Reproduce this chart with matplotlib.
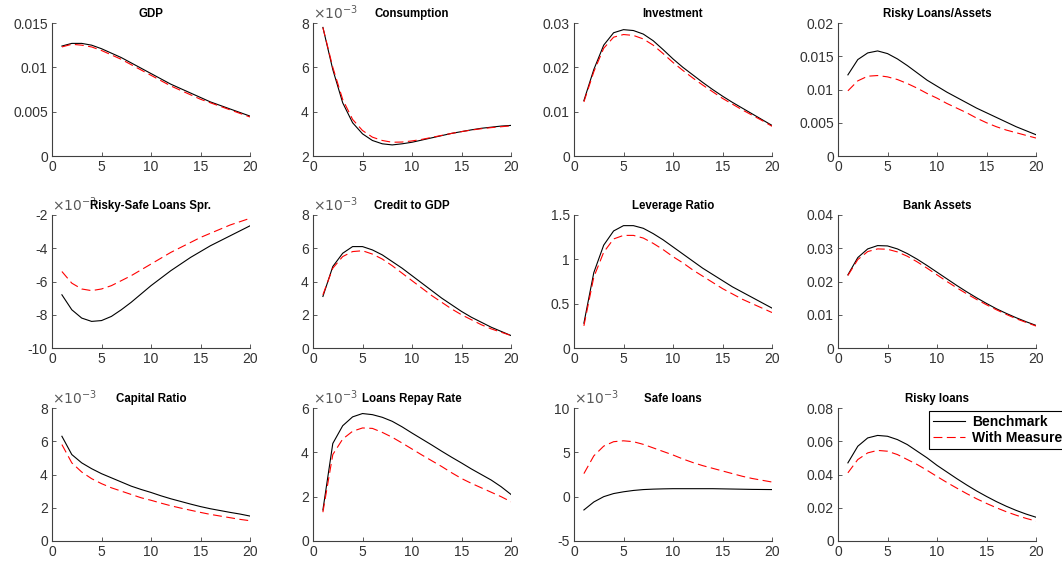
import numpy as np
import matplotlib
matplotlib.use("Agg")
import matplotlib.pyplot as plt
from matplotlib.ticker import FuncFormatter

plt.rcParams['font.family'] = ['Liberation Sans', 'DejaVu Sans']

periods = np.arange(1, 21)

titles = ['GDP', 'Consumption', 'Investment', 'Risky Loans/Assets',
          'Risky-Safe Loans Spr.', 'Credit to GDP', 'Leverage Ratio', 'Bank Assets',
          'Capital Ratio', 'Loans Repay Rate', 'Safe loans', 'Risky loans']

gdp_bench = [0.0124, 0.0127, 0.0127, 0.0125, 0.0121, 0.0116, 0.0111, 0.0105, 0.0099, 0.0093,
             0.0087, 0.0081, 0.0076, 0.0071, 0.0066, 0.0061, 0.0057, 0.0053, 0.0049, 0.0045]
gdp_meas = [0.0123, 0.0126, 0.0125, 0.0123, 0.0119, 0.0114, 0.0109, 0.0103, 0.0097, 0.0091,
            0.0085, 0.0079, 0.0074, 0.0069, 0.0064, 0.0060, 0.0056, 0.0052, 0.0048, 0.0044]

cons_bench = [7.8e-3, 5.9e-3, 4.4e-3, 3.5e-3, 3.0e-3, 2.7e-3, 2.55e-3, 2.5e-3, 2.55e-3, 2.62e-3,
              2.72e-3, 2.82e-3, 2.92e-3, 3.02e-3, 3.1e-3, 3.18e-3, 3.25e-3, 3.3e-3, 3.35e-3, 3.38e-3]
cons_meas = [7.8e-3, 6.0e-3, 4.55e-3, 3.65e-3, 3.15e-3, 2.85e-3, 2.7e-3, 2.62e-3, 2.63e-3, 2.68e-3,
             2.75e-3, 2.84e-3, 2.93e-3, 3.02e-3, 3.1e-3, 3.17e-3, 3.23e-3, 3.28e-3, 3.32e-3, 3.36e-3]

inv_bench = [0.0125, 0.0195, 0.0250, 0.0278, 0.0285, 0.0283, 0.0275, 0.0260, 0.0240, 0.0219,
             0.0200, 0.0183, 0.0166, 0.0150, 0.0135, 0.0121, 0.0108, 0.0095, 0.0082, 0.0069]
inv_meas = [0.0122, 0.0190, 0.0243, 0.0268, 0.0274, 0.0272, 0.0264, 0.0250, 0.0231, 0.0211,
            0.0193, 0.0176, 0.0160, 0.0145, 0.0130, 0.0117, 0.0104, 0.0092, 0.0080, 0.0067]

rla_bench = [0.0122, 0.0145, 0.0155, 0.0158, 0.0154, 0.0146, 0.0136, 0.0125, 0.0114, 0.0105,
             0.0096, 0.0088, 0.0080, 0.0072, 0.0065, 0.0058, 0.0051, 0.0044, 0.0038, 0.0032]
rla_meas = [0.0098, 0.0113, 0.0120, 0.0121, 0.0119, 0.0115, 0.0109, 0.0102, 0.0094, 0.0087,
            0.0079, 0.0072, 0.0065, 0.0057, 0.0050, 0.0044, 0.0039, 0.0035, 0.0031, 0.0027]

spr_bench = [-6.8e-3, -7.7e-3, -8.2e-3, -8.4e-3, -8.35e-3, -8.1e-3, -7.7e-3, -7.25e-3, -6.75e-3, -6.25e-3,
             -5.8e-3, -5.35e-3, -4.95e-3, -4.55e-3, -4.2e-3, -3.85e-3, -3.55e-3, -3.25e-3, -2.95e-3, -2.65e-3]
spr_meas = [-5.4e-3, -6.1e-3, -6.45e-3, -6.55e-3, -6.45e-3, -6.25e-3, -5.95e-3, -5.65e-3, -5.3e-3, -4.95e-3,
            -4.6e-3, -4.25e-3, -3.95e-3, -3.65e-3, -3.35e-3, -3.1e-3, -2.85e-3, -2.6e-3, -2.4e-3, -2.2e-3]

cgdp_bench = [3.1e-3, 4.9e-3, 5.7e-3, 6.1e-3, 6.1e-3, 5.9e-3, 5.6e-3, 5.2e-3, 4.8e-3, 4.35e-3,
              3.9e-3, 3.45e-3, 3.0e-3, 2.6e-3, 2.2e-3, 1.85e-3, 1.55e-3, 1.25e-3, 1.0e-3, 0.75e-3]
cgdp_meas = [3.2e-3, 4.8e-3, 5.5e-3, 5.8e-3, 5.85e-3, 5.65e-3, 5.35e-3, 4.95e-3, 4.5e-3, 4.05e-3,
             3.6e-3, 3.15e-3, 2.75e-3, 2.35e-3, 2.0e-3, 1.7e-3, 1.4e-3, 1.15e-3, 0.95e-3, 0.75e-3]

lev_bench = [0.28, 0.85, 1.16, 1.32, 1.38, 1.38, 1.35, 1.29, 1.22, 1.14,
             1.06, 0.98, 0.90, 0.83, 0.76, 0.69, 0.63, 0.57, 0.51, 0.45]
lev_meas = [0.25, 0.80, 1.08, 1.23, 1.27, 1.27, 1.24, 1.18, 1.11, 1.03,
            0.96, 0.88, 0.81, 0.74, 0.67, 0.61, 0.55, 0.50, 0.45, 0.40]

ba_bench = [0.0220, 0.0272, 0.0298, 0.0308, 0.0307, 0.0298, 0.0284, 0.0267, 0.0248, 0.0228,
            0.0208, 0.0188, 0.0169, 0.0151, 0.0134, 0.0118, 0.0104, 0.0091, 0.0079, 0.0068]
ba_meas = [0.0218, 0.0266, 0.0290, 0.0298, 0.0297, 0.0289, 0.0276, 0.0259, 0.0240, 0.0220,
           0.0200, 0.0181, 0.0163, 0.0146, 0.0130, 0.0115, 0.0101, 0.0088, 0.0077, 0.0066]

cap_bench = [6.3e-3, 5.2e-3, 4.7e-3, 4.35e-3, 4.05e-3, 3.8e-3, 3.55e-3, 3.3e-3, 3.1e-3, 2.92e-3,
             2.72e-3, 2.54e-3, 2.38e-3, 2.22e-3, 2.07e-3, 1.94e-3, 1.83e-3, 1.72e-3, 1.62e-3, 1.5e-3]
cap_meas = [5.8e-3, 4.7e-3, 4.15e-3, 3.75e-3, 3.45e-3, 3.2e-3, 3.0e-3, 2.8e-3, 2.6e-3, 2.45e-3,
            2.28e-3, 2.12e-3, 1.98e-3, 1.85e-3, 1.72e-3, 1.6e-3, 1.5e-3, 1.4e-3, 1.3e-3, 1.22e-3]

rep_bench = [1.4e-3, 4.4e-3, 5.2e-3, 5.6e-3, 5.75e-3, 5.7e-3, 5.58e-3, 5.4e-3, 5.15e-3, 4.87e-3,
             4.6e-3, 4.33e-3, 4.05e-3, 3.78e-3, 3.52e-3, 3.25e-3, 3.0e-3, 2.75e-3, 2.45e-3, 2.1e-3]
rep_meas = [1.3e-3, 3.9e-3, 4.6e-3, 4.95e-3, 5.1e-3, 5.08e-3, 4.9e-3, 4.68e-3, 4.42e-3, 4.15e-3,
            3.88e-3, 3.62e-3, 3.36e-3, 3.08e-3, 2.82e-3, 2.6e-3, 2.4e-3, 2.2e-3, 2.0e-3, 1.77e-3]

safe_bench = [-1.5e-3, -0.6e-3, 0.0, 0.35e-3, 0.55e-3, 0.7e-3, 0.8e-3, 0.85e-3, 0.88e-3, 0.9e-3,
              0.9e-3, 0.9e-3, 0.9e-3, 0.9e-3, 0.88e-3, 0.86e-3, 0.84e-3, 0.82e-3, 0.81e-3, 0.8e-3]
safe_meas = [2.6e-3, 4.6e-3, 5.7e-3, 6.2e-3, 6.3e-3, 6.2e-3, 5.9e-3, 5.5e-3, 5.1e-3, 4.7e-3,
             4.25e-3, 3.85e-3, 3.5e-3, 3.2e-3, 2.9e-3, 2.6e-3, 2.3e-3, 2.05e-3, 1.85e-3, 1.65e-3]

rl_bench = [0.047, 0.057, 0.062, 0.0635, 0.063, 0.061, 0.058, 0.054, 0.050, 0.0455,
            0.0415, 0.0375, 0.0337, 0.0301, 0.0268, 0.0237, 0.0209, 0.0184, 0.0162, 0.0143]
rl_meas = [0.041, 0.049, 0.053, 0.0545, 0.054, 0.052, 0.049, 0.046, 0.0425, 0.0388,
           0.0352, 0.0318, 0.0285, 0.0254, 0.0226, 0.0200, 0.0176, 0.0155, 0.0136, 0.0120]

bench_series = [gdp_bench, cons_bench, inv_bench, rla_bench, spr_bench, cgdp_bench,
                lev_bench, ba_bench, cap_bench, rep_bench, safe_bench, rl_bench]
meas_series = [gdp_meas, cons_meas, inv_meas, rla_meas, spr_meas, cgdp_meas,
               lev_meas, ba_meas, cap_meas, rep_meas, safe_meas, rl_meas]

y_limits = [(0, 0.015), (2e-3, 8e-3), (0, 0.03), (0, 0.02),
            (-10e-3, -2e-3), (0, 8e-3), (0, 1.5), (0, 0.04),
            (0, 8e-3), (0, 6e-3), (-5e-3, 10e-3), (0, 0.08)]
y_steps = [0.005, 2e-3, 0.01, 0.005, 2e-3, 2e-3, 0.5, 0.01, 2e-3, 2e-3, 5e-3, 0.02]
scaled = [False, True, False, False, True, True, False, False, True, True, True, False]

fig = plt.figure(figsize=(10.62, 5.68), dpi=100)

lefts = [52, 313, 574, 838]
bottoms = [156, 348, 541]
w_px, h_px = 198, 133
axis_col = '0.25'

for i in range(12):
    r, c = divmod(i, 4)
    ax = fig.add_axes([lefts[c] / 1062, 1 - bottoms[r] / 568, w_px / 1062, h_px / 568])
    l1, = ax.plot(periods, bench_series[i], color='black', lw=0.8, label='Benchmark')
    l2, = ax.plot(periods, meas_series[i], color='red', lw=0.8, dashes=(8, 4), label='With Measure')
    lo, hi = y_limits[i]
    ax.set_xlim(0, 20)
    ax.set_ylim(lo, hi)
    ax.set_xticks([0, 5, 10, 15, 20])
    ax.set_yticks(np.arange(lo, hi + y_steps[i] / 2, y_steps[i]))
    if scaled[i]:
        ax.yaxis.set_major_formatter(FuncFormatter(lambda v, p: '%g' % round(v * 1000, 6)))
        ax.text(0.0, 1.01, r'$\times10^{-3}$', transform=ax.transAxes, fontsize=10,
                color='0.35', ha='left', va='bottom')
    else:
        ax.yaxis.set_major_formatter(FuncFormatter(lambda v, p: '%g' % round(v, 6)))
    for s in ['top', 'right']:
        ax.spines[s].set_visible(False)
    for s in ['left', 'bottom']:
        ax.spines[s].set_color(axis_col)
        ax.spines[s].set_linewidth(0.8)
    ax.tick_params(direction='in', length=3, width=0.6, colors=axis_col,
                   labelsize=10, labelcolor='0.2', pad=3)
    ax.set_title(titles[i], fontsize=8.3, fontweight='bold', pad=4)

leg = fig.legend([l1, l2], ['Benchmark', 'With Measure'], loc='upper left',
                 bbox_to_anchor=(929 / 1062, 1 - 411 / 568), bbox_transform=fig.transFigure,
                 borderaxespad=0, fancybox=False, edgecolor='black', framealpha=1,
                 prop={'weight': 'bold', 'size': 10}, handlelength=2.3,
                 borderpad=0.3, labelspacing=0.15, handletextpad=0.5)
leg.get_frame().set_linewidth(0.8)

fig.savefig('out.png', dpi=100)
